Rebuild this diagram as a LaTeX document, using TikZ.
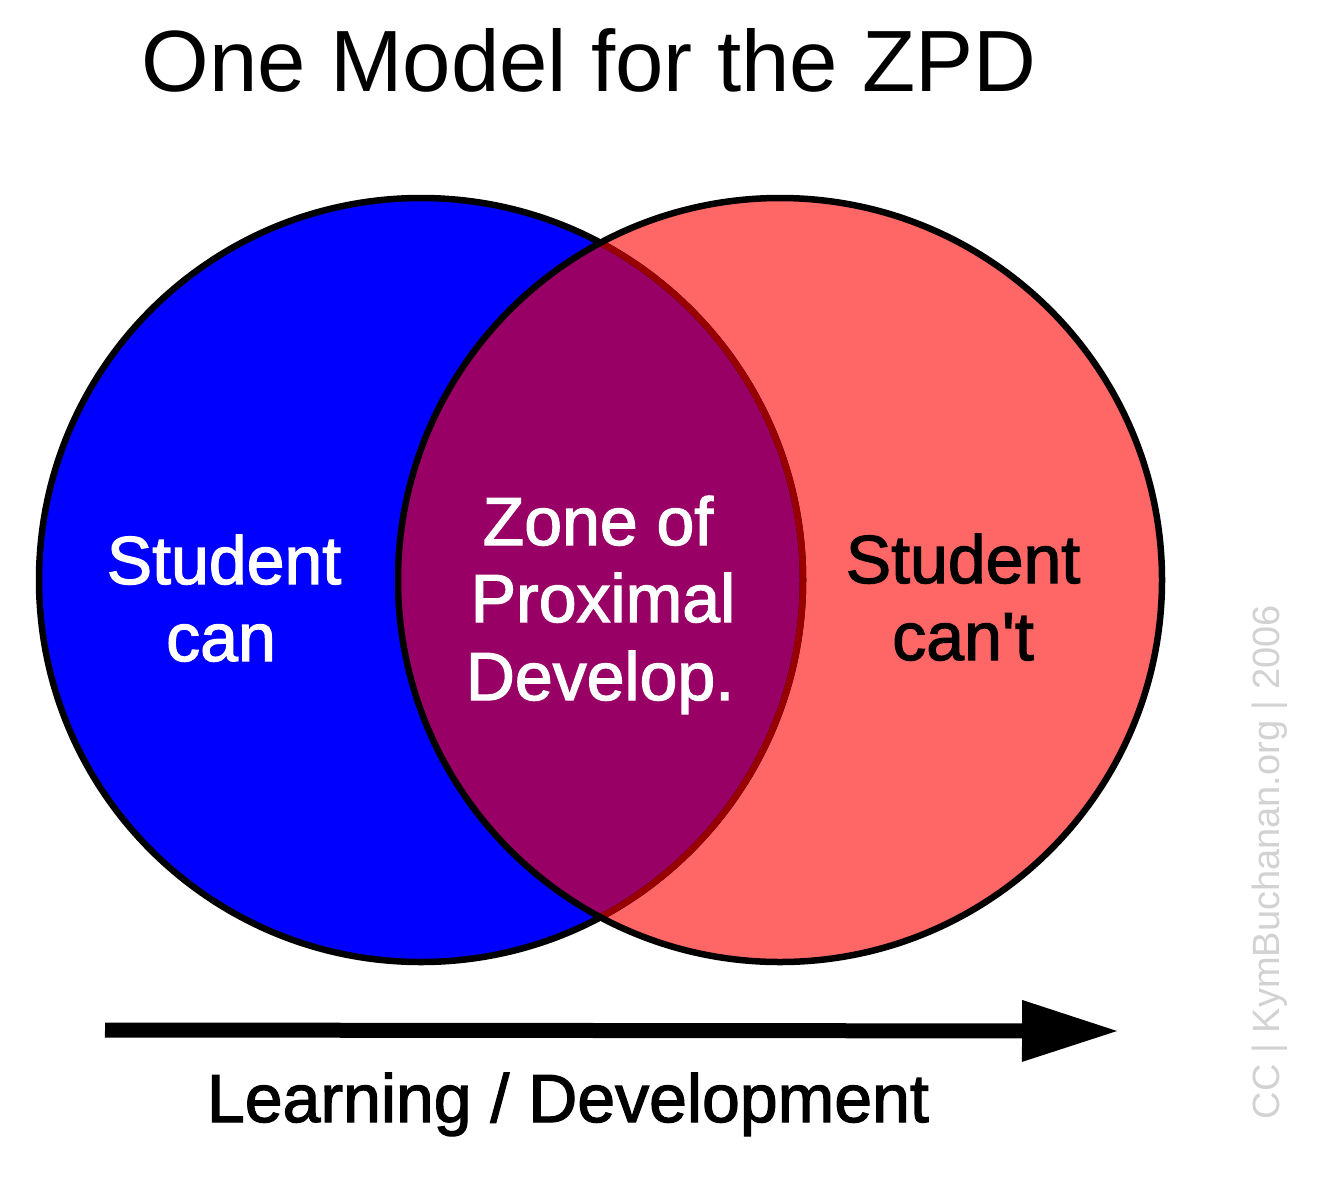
\documentclass[tikz,border=0pt]{standalone}
\usepackage{fontspec}
\setmainfont{Liberation Sans}
\newfontfamily\heavyfont{Liberation Sans}[FakeBold=1.8]
\usetikzlibrary{arrows.meta}
\definecolor{canblue}{RGB}{0,0,255}
\definecolor{cantred}{RGB}{255,102,102}
\definecolor{zpdpurple}{RGB}{153,0,102}
\definecolor{zpdedge}{RGB}{153,0,0}
\definecolor{ccgray}{RGB}{210,210,210}
\tikzset{
  lbl/.style={anchor=base, inner sep=0pt, font=\heavyfont\fontsize{68pt}{80pt}\selectfont},
  whitelbl/.style={lbl, text=white},
  blacklbl/.style={lbl, text=black},
  outline/.style={line width=6.5pt, draw=black},
}
\begin{document}
\begin{tikzpicture}[x=1pt,y=-1pt]
\useasboundingbox (0,0) rectangle (1330,1200);
\fill[white] (0,0) rectangle (1330,1200);
% circles
\coordinate (lc) at (421,580);
\coordinate (rc) at (780,580);
\fill[cantred] (rc) circle[radius=382];
\fill[canblue] (lc) circle[radius=382];
\begin{scope}
  \clip (rc) circle[radius=382];
  \fill[zpdpurple] (lc) circle[radius=382];
\end{scope}
\draw[outline] (lc) circle[radius=382];
\begin{scope}
  \clip (rc) circle[radius=382];
  \draw[line width=6.5pt, zpdedge] (lc) circle[radius=382];
\end{scope}
\draw[outline] (rc) circle[radius=382];
% title
\node[anchor=base, inner sep=0pt, font=\fontsize{87pt}{100pt}\selectfont] (title) at (589,91) {One Model for the ZPD};
% labels
\node[whitelbl] (can1) at (224,584) {Student};
\node[whitelbl] (can2) at (221,661) {can};
\node[whitelbl] (zpd1) at (598,545) {Zone of};
\node[whitelbl] (zpd2) at (603,622) {Proximal};
\node[whitelbl] (zpd3) at (600,700) {Develop.};
\node[blacklbl] (cant1) at (963,583) {Student};
\node[blacklbl] (cant2) at (963,660) {can't};
% arrow
\coordinate (astart) at (105,1030);
\coordinate (atip) at (1117,1031);
\draw[line width=15pt, -{Triangle[length=95pt,width=62pt,line width=0pt]}] (astart) -- (atip);
\node[blacklbl] (axis) at (568,1122) {Learning / Development};
% credit
\node[rotate=90, inner sep=0pt, text=ccgray, font=\fontsize{38pt}{44pt}\selectfont] (credit) at (1270,862) {CC | KymBuchanan.org | 2006};
\end{tikzpicture}
\end{document}
